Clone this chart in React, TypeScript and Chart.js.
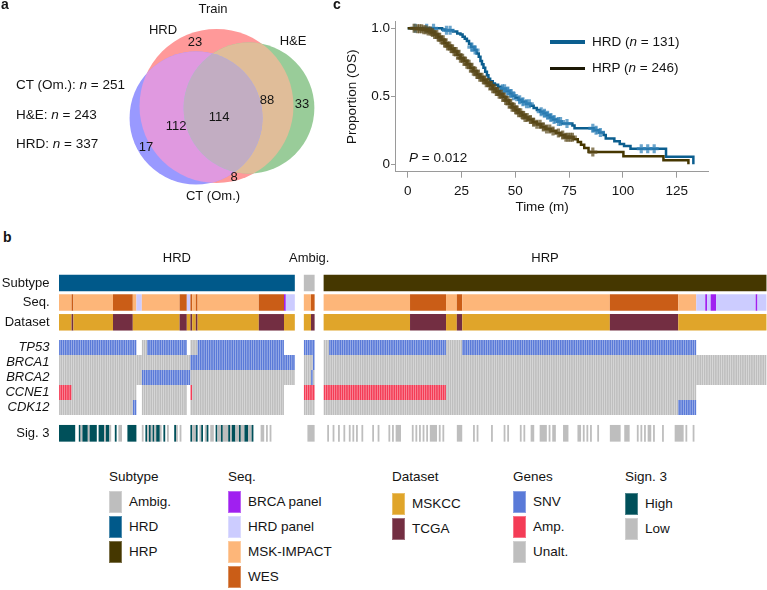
import React, { useEffect, useRef } from 'react';
import { Chart, registerables, BubbleController } from 'chart.js';

Chart.register(...registerables);

// bubble controller whose circles do not shrink the chart area (Venn layout is in px-units)
class VennBubbleController extends (BubbleController as any) {
  getMaxOverflow() { return 0; }
}
(VennBubbleController as any).id = 'vennBubble';
(VennBubbleController as any).defaults = (BubbleController as any).defaults;
(VennBubbleController as any).overrides = (BubbleController as any).overrides;
Chart.register(VennBubbleController as any);

const FONT = '"Liberation Sans", Arial, Helvetica, sans-serif';
const INK = '#141414';

/* ================= a: Venn diagram (Train) ================= */
const vennSetNames = ['HRD', 'H&E', 'CT (Om.)'];
const vennSetSizes = [337, 243, 251];
// regions: HRD only, H&E only, CT only, HRD∩H&E, HRD∩CT, H&E∩CT, all three
const vennRegionCounts = [23, 33, 17, 88, 112, 8, 114];
const vennTitle = 'Train';

/* ================= c: Kaplan–Meier (OS) ================= */
const kmGroupNames = ['HRD', 'HRP'];
const kmGroupN = [131, 246];
const hrdTime = [0, 16, 17.5, 21, 23, 24.5, 25.5, 26.5, 27.5, 28.5, 29.5, 31, 32, 33, 33.8, 34.5, 35.2, 36, 36.8, 37.5, 38.3, 39.5, 40.5, 42, 43.5, 45.5, 47.5, 48.5, 50, 51.5, 53, 55, 57, 58.5, 60, 61.5, 63, 64.5, 66, 67.5, 69.5, 71.5, 76.5, 77.5, 86.5, 89, 91, 92, 96, 98.5, 100.5, 103.5, 120, 132.7];
const hrdSurv = [1, 0.992, 0.985, 0.977, 0.962, 0.954, 0.938, 0.923, 0.907, 0.885, 0.862, 0.84, 0.815, 0.79, 0.76, 0.735, 0.71, 0.68, 0.655, 0.63, 0.61, 0.595, 0.585, 0.57, 0.555, 0.54, 0.52, 0.505, 0.49, 0.475, 0.46, 0.445, 0.43, 0.415, 0.4, 0.387, 0.375, 0.36, 0.345, 0.33, 0.315, 0.3, 0.285, 0.265, 0.25, 0.235, 0.215, 0.19, 0.17, 0.15, 0.135, 0.115, 0.055, 0];
const hrdCensor = [3.5, 8.8, 12, 18, 19.7, 29.8, 31.3, 44, 45, 46.5, 48, 49.2, 52, 53.5, 55.2, 56.5, 62, 63.5, 65, 66.5, 68, 70, 71, 74, 86, 87.5, 89.5, 108.5, 111.5, 114.5];
const hrpTime = [0, 4, 7, 9.5, 11, 12.5, 14, 15.5, 17, 18.5, 20, 21.5, 23, 24.5, 26, 27.5, 29, 30.5, 32, 33.5, 35, 36.5, 38, 39.5, 41, 42.5, 44, 45.5, 47, 48.5, 50, 51.5, 53, 54.5, 56, 58, 60, 62, 64, 66.5, 69, 71, 73, 77, 79, 80.5, 82, 84, 100.2, 118.8, 130.4];
const hrpSurv = [1, 0.996, 0.99, 0.98, 0.97, 0.955, 0.935, 0.915, 0.89, 0.87, 0.85, 0.83, 0.805, 0.78, 0.76, 0.735, 0.71, 0.685, 0.66, 0.64, 0.62, 0.6, 0.58, 0.555, 0.535, 0.515, 0.495, 0.47, 0.445, 0.42, 0.4, 0.38, 0.36, 0.345, 0.33, 0.31, 0.295, 0.275, 0.26, 0.245, 0.23, 0.215, 0.2, 0.185, 0.165, 0.145, 0.12, 0.09, 0.06, 0.03, 0];
const hrpCensor = [3, 4.5, 5.5, 6.5, 7.5, 8.5, 9.5, 10.5, 11.5, 12.5, 13.5, 14.5, 15.5, 16.5, 17.5, 18.5, 19.5, 20.5, 21.5, 22.5, 23.5, 24.5, 25.5, 26.5, 27.5, 28.5, 29.5, 30.5, 31.5, 32.5, 33.5, 34.5, 35.5, 36.5, 37.5, 38.5, 39.5, 40.5, 41.5, 42.5, 43.5, 44.5, 45.5, 46.5, 47.5, 48.5, 49.5, 50.5, 51.5, 52.5, 53.5, 54.5, 55.5, 57, 58.5, 60, 61.5, 63, 64.5, 66, 67.5, 70, 72, 73.5, 74.5, 75.5, 76.5, 86];
const kmPValue = '0.012';
const kmXTicks = [0, 25, 50, 75, 100, 125];
const kmYTicks = [0, 0.5, 1];

/* ================= b: oncoprint ================= */
const sectionNames = ['HRD', 'Ambig.', 'HRP'];
const sectionSizes = [131, 6, 246];
const rowLabels = ['Subtype', 'Seq.', 'Dataset', 'TP53', 'BRCA1', 'BRCA2', 'CCNE1', 'CDK12', 'Sig. 3'];
const geneNames = ['TP53', 'BRCA1', 'BRCA2', 'CCNE1', 'CDK12'];

// category labels
const AMB = 'Ambig.', HRDs = 'HRD', HRPs = 'HRP';
const BP = 'BRCA panel', HP = 'HRD panel', M = 'MSK-IMPACT', W = 'WES';
const K = 'MSKCC', T = 'TCGA';
const S = 'SNV', A = 'Amp.', U = 'Unalt.';
const HI = 'High', LO = 'Low';

// runs: [section, startSample, endSample, category]
const subtypeRuns = [[0, 0, 131, HRDs], [1, 0, 6, AMB], [2, 0, 246, HRPs]];
const seqRuns = [
  [0, 0, 7, M], [0, 7, 8, W], [0, 8, 30, M], [0, 30, 41, W], [0, 41, 43, M], [0, 43, 46, HP], [0, 46, 67, M], [0, 67, 71, W],
  [0, 71, 73, HP], [0, 73, 74, W], [0, 74, 76, M], [0, 76, 77, W], [0, 77, 111, M], [0, 111, 125, W], [0, 125, 126, BP], [0, 126, 131, HP],
  [1, 0, 4, M], [1, 4, 6, W],
  [2, 0, 48, M], [2, 48, 68, W], [2, 68, 74, M], [2, 74, 77, W], [2, 77, 159, M], [2, 159, 197, W], [2, 197, 207, M],
  [2, 207, 212, HP], [2, 212, 213, BP], [2, 213, 215, HP], [2, 215, 218, BP], [2, 218, 240, HP], [2, 240, 241, BP], [2, 241, 246, HP],
];
const datasetRuns = [
  [0, 0, 7, K], [0, 7, 8, T], [0, 8, 30, K], [0, 30, 41, T], [0, 41, 67, K], [0, 67, 71, T], [0, 71, 73, K], [0, 73, 74, T],
  [0, 74, 76, K], [0, 76, 77, T], [0, 77, 111, K], [0, 111, 125, T], [0, 125, 131, K],
  [1, 0, 4, K], [1, 4, 6, T],
  [2, 0, 48, K], [2, 48, 68, T], [2, 68, 74, K], [2, 74, 77, T], [2, 77, 159, K], [2, 159, 197, T], [2, 197, 246, K],
];
const tp53Runs = [[0, 0, 43, S], [0, 46, 49, U], [0, 49, 71, S], [0, 73, 77, U], [0, 77, 125, S], [1, 0, 6, S], [2, 0, 3, U], [2, 3, 68, S], [2, 68, 77, U], [2, 77, 207, S]];
const brca1Runs = [[0, 0, 73, U], [0, 73, 131, S], [1, 0, 5, U], [1, 5, 6, S], [2, 0, 246, U]];
const brca2Runs = [[0, 0, 46, U], [0, 46, 73, S], [0, 73, 131, U], [1, 0, 4, U], [1, 4, 5, S], [1, 5, 6, U], [2, 0, 246, U]];
const ccne1Runs = [[0, 0, 7, A], [0, 7, 43, U], [0, 46, 71, U], [0, 73, 74, A], [0, 74, 125, U], [1, 0, 6, A], [2, 0, 68, A], [2, 68, 207, U]];
const cdk12Runs = [[0, 0, 41, U], [0, 41, 43, S], [0, 46, 71, U], [0, 73, 125, U], [1, 0, 6, U], [2, 0, 197, U], [2, 197, 207, S]];
const sig3Runs = [
  [0, 0, 9, HI], [0, 11, 12, HI], [0, 12, 13, LO], [0, 13, 16, HI], [0, 16, 17, LO], [0, 17, 21, HI], [0, 22, 25, HI], [0, 25, 26, LO],
  [0, 26, 28, HI], [0, 28, 29, LO], [0, 31, 32, HI], [0, 33, 35, LO], [0, 38, 43, HI], [0, 46, 47, LO], [0, 48, 49, HI], [0, 49, 50, LO],
  [0, 50, 51, HI], [0, 51, 52, LO], [0, 52, 53, HI], [0, 53, 54, LO], [0, 54, 56, HI], [0, 56, 57, LO], [0, 58, 59, HI], [0, 60, 61, LO],
  [0, 64, 65, HI], [0, 65, 66, LO], [0, 67, 68, LO], [0, 73, 74, HI], [0, 74, 76, LO], [0, 76, 77, HI], [0, 78, 79, LO], [0, 79, 80, HI],
  [0, 81, 82, LO], [0, 82, 83, HI], [0, 84, 86, LO], [0, 87, 88, HI], [0, 88, 90, LO], [0, 90, 91, HI], [0, 91, 94, LO], [0, 94, 95, HI],
  [0, 95, 96, LO], [0, 96, 98, HI], [0, 98, 100, LO], [0, 100, 101, HI], [0, 101, 103, LO], [0, 103, 105, HI], [0, 105, 107, LO], [0, 107, 108, HI],
  [0, 112, 114, LO], [0, 115, 116, LO], [0, 117, 118, LO],
  [1, 2, 6, LO],
  [2, 2, 3, LO], [2, 5, 6, LO], [2, 8, 9, LO], [2, 11, 12, LO], [2, 14, 15, LO], [2, 16, 17, LO], [2, 18, 19, LO], [2, 21, 22, LO],
  [2, 27, 28, LO], [2, 30, 31, LO], [2, 36, 37, LO], [2, 38, 39, LO], [2, 40, 43, LO], [2, 49, 50, LO], [2, 51, 52, LO], [2, 53, 54, LO],
  [2, 55, 56, LO], [2, 57, 58, LO], [2, 59, 63, LO], [2, 64, 65, LO], [2, 66, 67, LO], [2, 74, 77, LO], [2, 83, 84, LO], [2, 85, 86, LO],
  [2, 93, 94, LO], [2, 100, 101, LO], [2, 102, 103, LO], [2, 109, 110, LO], [2, 111, 112, LO], [2, 115, 117, LO], [2, 120, 124, LO], [2, 125, 126, LO],
  [2, 127, 129, LO], [2, 133, 136, LO], [2, 141, 143, LO], [2, 144, 145, LO], [2, 146, 147, LO], [2, 148, 149, LO], [2, 152, 153, LO], [2, 159, 165, LO],
  [2, 167, 170, LO], [2, 174, 175, LO], [2, 176, 177, LO], [2, 178, 179, LO], [2, 180, 182, LO], [2, 183, 184, LO], [2, 188, 189, LO], [2, 195, 200, LO],
  [2, 201, 202, LO], [2, 205, 206, LO],
];

// legend
const legendTitles = ['Subtype', 'Seq.', 'Dataset', 'Genes', 'Sign. 3'];
const legendItems = [[AMB, HRDs, HRPs], [BP, HP, M, W], [K, T], [S, A, U], [HI, LO]];

/* ================= styles & layout ================= */
const cellColors: Record<string, string> = {
  [AMB]: '#bebebe', [HRDs]: '#00598a', [HRPs]: '#453700',
  [BP]: '#a020f0', [HP]: '#ccccff', [M]: '#fdb679', [W]: '#ca5d17',
  [K]: '#e0a52a', [T]: '#732e42',
  [S]: '#5a7ad8', [A]: '#f43c56', [U]: '#bebebe',
  [HI]: '#00505a', [LO]: '#bebebe',
};
const vennFill = ['rgb(255,153,153)', 'rgb(153,204,153)', 'rgb(153,153,255)'];
const vennMix01 = 'rgb(224,189,153)';
const vennMix02 = 'rgb(224,153,224)';
const vennMix12 = 'rgb(153,189,224)';
const vennMix012 = 'rgb(194,173,194)';
const vennCenters = [[216.5, 106], [249, 108], [196, 118]];
const vennPxPerSqrtN = 4.194;
const vennRegionLabelPos = [[195, 42], [302, 104], [146, 147], [267, 100], [176, 126], [234, 177], [219, 117]];
const vennSetLabelPos = [[163, 30], [293, 41], [213, 196]];
const vennTitlePos = [213, 9];

const sectionGap = 5;
const rowPos = [1.0, 2.3, 3.62, 5.3, 6.3, 7.3, 8.3, 9.3, 11.02];

const stepAt = (times: number[], surv: number[], t: number) => {
  let s = surv[0];
  for (let i = 0; i < times.length; i++) if (times[i] <= t) s = surv[i];
  return s;
};

function makeVenn(canvas: HTMLCanvasElement) {
  const regionsPlugin = {
    id: 'vennRegions',
    afterDatasetsDraw(chart: any) {
      const { ctx, scales } = chart;
      const els = chart.getDatasetMeta(0).data;
      const circle = (i: number) => {
        ctx.beginPath();
        ctx.arc(els[i].x, els[i].y, els[i].options.radius, 0, Math.PI * 2);
      };
      const paint = (clips: number[], f: number, color: string) => {
        ctx.save();
        clips.forEach((c) => { circle(c); ctx.clip(); });
        circle(f);
        ctx.fillStyle = color;
        ctx.fill();
        ctx.restore();
      };
      paint([0], 1, vennMix01);
      paint([0], 2, vennMix02);
      paint([1], 2, vennMix12);
      paint([0, 1], 2, vennMix012);
      ctx.save();
      ctx.font = `13px ${FONT}`;
      ctx.fillStyle = INK;
      ctx.textAlign = 'center';
      ctx.textBaseline = 'middle';
      const px = (p: number[]) => [scales.x.getPixelForValue(p[0]), scales.y.getPixelForValue(p[1])];
      vennRegionCounts.forEach((n, i) => { const [x, y] = px(vennRegionLabelPos[i]); ctx.fillText(String(n), x, y); });
      vennSetNames.forEach((n, i) => { const [x, y] = px(vennSetLabelPos[i]); ctx.fillText(n, x, y); });
      const [tx, ty] = px(vennTitlePos);
      ctx.fillText(vennTitle, tx, ty);
      ctx.restore();
    },
  };
  return new Chart(canvas, {
    type: 'vennBubble',
    data: {
      datasets: [{
        data: vennSetSizes.map((n, i) => ({ x: vennCenters[i][0], y: vennCenters[i][1], r: Math.sqrt(n) * vennPxPerSqrtN })),
        backgroundColor: vennFill,
        borderWidth: 0,
        clip: false,
      }],
    },
    options: {
      responsive: false,
      animation: false,
      events: [],
      layout: { padding: 0 },
      plugins: { legend: { display: false }, tooltip: { enabled: false } },
      scales: {
        x: { type: 'linear', display: false, min: 0, max: 340 },
        y: { type: 'linear', display: false, min: 0, max: 215, reverse: true },
      },
    },
    plugins: [regionsPlugin],
  } as any);
}

function makeKM(canvas: HTMLCanvasElement) {
  const axisGray = '#9a9a9a';
  const tickFont = { family: FONT, size: 13.5 };
  return new Chart(canvas, {
    type: 'line',
    data: {
      datasets: [
        {
          label: 'HRP censored',
          data: hrpCensor.map((t) => ({ x: t, y: stepAt(hrpTime, hrpSurv, t) })),
          showLine: false, pointStyle: 'cross', pointRadius: 4.5, pointBorderWidth: 3.2,
          pointBorderColor: 'rgba(92,76,28,0.7)', pointBackgroundColor: 'rgba(0,0,0,0)',
        },
        {
          label: kmGroupNames[1],
          data: hrpTime.map((t, i) => ({ x: t, y: hrpSurv[i] })),
          stepped: true, borderColor: '#463700', borderWidth: 2.5, pointRadius: 0, fill: false,
        },
        {
          label: 'HRD censored',
          data: hrdCensor.map((t) => ({ x: t, y: stepAt(hrdTime, hrdSurv, t) })),
          showLine: false, pointStyle: 'cross', pointRadius: 4.5, pointBorderWidth: 3.2,
          pointBorderColor: 'rgba(50,130,185,0.72)', pointBackgroundColor: 'rgba(0,0,0,0)',
        },
        {
          label: kmGroupNames[0],
          data: hrdTime.map((t, i) => ({ x: t, y: hrdSurv[i] })),
          stepped: true, borderColor: '#0b5e8f', borderWidth: 2.5, pointRadius: 0, fill: false,
        },
      ],
    },
    options: {
      responsive: false,
      animation: false,
      events: [],
      layout: { padding: { left: 0, right: 59, top: 21.7, bottom: 0 } },
      plugins: { legend: { display: false }, tooltip: { enabled: false } },
      scales: {
        x: {
          type: 'linear', min: -5.9, max: 139.5,
          afterBuildTicks: (s: any) => { s.ticks = kmXTicks.map((v) => ({ value: v })); },
          afterFit: (s: any) => { s.height = 43.3; s.paddingLeft = 0; s.paddingRight = 0; },
          grid: { drawOnChartArea: false, drawTicks: true, tickLength: 6, color: axisGray },
          border: { display: true, color: axisGray, width: 1 },
          ticks: { padding: 5.7, color: INK, font: tickFont, maxRotation: 0, autoSkip: false },
          title: { display: true, text: 'Time (m)     ', color: INK, font: tickFont, padding: { top: 0, bottom: 0 } },
        },
        y: {
          type: 'linear', min: -0.054, max: 1.0485,
          afterBuildTicks: (s: any) => { s.ticks = kmYTicks.map((v) => ({ value: v })); },
          afterFit: (s: any) => { s.width = 65; s.paddingTop = 0; s.paddingBottom = 0; },
          grid: { drawOnChartArea: false, drawTicks: true, tickLength: 4, color: axisGray },
          border: { display: true, color: axisGray, width: 1 },
          ticks: { padding: 1, color: INK, font: tickFont, autoSkip: false, callback: (v: any) => (Number(v) === 0 ? '0' : Number(v).toFixed(1)) },
          title: { display: true, text: 'Proportion (OS)', color: INK, font: tickFont, padding: { top: 14, bottom: 0 } },
        },
      },
    },
  } as any);
}

function makeOnco(canvas: HTMLCanvasElement) {
  const sectionStart = sectionSizes.map((_, i) => sectionSizes.slice(0, i).reduce((a, b) => a + b + sectionGap, 0));
  const total = sectionStart[2] + sectionSizes[2];
  const build = (runs: any[], row: number, perSample: boolean) => {
    const out: any[] = [];
    runs.forEach(([sec, s, e, c]) => {
      const off = sectionStart[sec];
      if (perSample) {
        for (let i = s; i < e; i++) out.push({ x: [off + i + 0.06, off + i + 0.94], y: rowPos[row], c });
      } else {
        out.push({ x: [off + s, off + e], y: rowPos[row], c });
      }
    });
    return out;
  };
  const color = (ctx: any) => (ctx.raw && ctx.raw.c ? cellColors[ctx.raw.c] : '#000');
  const common = { grouped: false, borderWidth: 0, inflateAmount: 0, backgroundColor: color };
  const labelsPlugin = {
    id: 'oncoLabels',
    afterDraw(chart: any) {
      const { ctx, scales, chartArea } = chart;
      ctx.save();
      ctx.fillStyle = INK;
      ctx.textBaseline = 'middle';
      ctx.textAlign = 'center';
      ctx.font = `13px ${FONT}`;
      sectionNames.forEach((n, i) => {
        ctx.fillText(n, scales.x.getPixelForValue(sectionStart[i] + sectionSizes[i] / 2), chartArea.top - 10);
      });
      ctx.textAlign = 'right';
      rowLabels.forEach((lab, i) => {
        ctx.font = `${geneNames.includes(lab) ? 'italic ' : ''}13px ${FONT}`;
        ctx.fillText(lab, chartArea.left - 9.5, scales.y.getPixelForValue(rowPos[i]));
      });
      ctx.restore();
    },
  };
  return new Chart(canvas, {
    type: 'bar',
    data: {
      datasets: [
        { ...common, label: 'annotations', barThickness: 16.5, data: [...build(subtypeRuns, 0, false), ...build(seqRuns, 1, false), ...build(datasetRuns, 2, false)] },
        {
          ...common, label: 'genes', barThickness: 15,
          data: [...build(tp53Runs, 3, true), ...build(brca1Runs, 4, true), ...build(brca2Runs, 5, true), ...build(ccne1Runs, 6, true), ...build(cdk12Runs, 7, true)],
        },
        { ...common, label: 'sig3', barThickness: 16.7, data: build(sig3Runs, 8, false) },
      ],
    },
    options: {
      indexAxis: 'y',
      responsive: false,
      animation: false,
      events: [],
      layout: { padding: { left: 59, right: 0, top: 20, bottom: 0 } },
      plugins: { legend: { display: false }, tooltip: { enabled: false } },
      scales: {
        x: { type: 'linear', display: false, min: 0, max: total + 0.3 },
        y: { type: 'linear', display: false, reverse: true, min: 0, max: 12, offset: false },
      },
    },
    plugins: [labelsPlugin],
  } as any);
}

const abs = (left: number, top: number, extra: any = {}) => ({
  position: 'absolute' as const, left, top, whiteSpace: 'nowrap' as const, fontSize: 13, lineHeight: '16px', ...extra,
});

const legendX = [109, 228, 392, 513, 625];
const legendTop = [490.5, 490.5, 493, 490.5, 493];

export default function App() {
  const vennRef = useRef<HTMLCanvasElement>(null);
  const kmRef = useRef<HTMLCanvasElement>(null);
  const oncoRef = useRef<HTMLCanvasElement>(null);

  useEffect(() => {
    const charts = [makeVenn(vennRef.current!), makeKM(kmRef.current!), makeOnco(oncoRef.current!)];
    return () => charts.forEach((c) => c.destroy());
  }, []);

  return (
    <div style={{ position: 'absolute', left: 0, top: 0, width: 767, height: 590, overflow: 'hidden', background: '#fff', fontFamily: FONT, color: INK }}>
      {/* panel a */}
      <canvas ref={vennRef} width={340} height={215} style={{ position: 'absolute', left: 0, top: 0, width: 340, height: 215 }} />
      <div style={abs(1, -3, { fontSize: 14, lineHeight: '14px', fontWeight: 'bold' })}>a</div>
      <div style={abs(16, 77, { fontSize: 13.5 })}>{vennSetNames[2]}: <i>n</i> = {vennSetSizes[2]}</div>
      <div style={abs(16, 106.5, { fontSize: 13.5 })}>{vennSetNames[1]}: <i>n</i> = {vennSetSizes[1]}</div>
      <div style={abs(16, 136, { fontSize: 13.5 })}>{vennSetNames[0]}: <i>n</i> = {vennSetSizes[0]}</div>

      {/* panel c */}
      <canvas ref={kmRef} width={437} height={215} style={{ position: 'absolute', left: 330, top: 0, width: 437, height: 215 }} />
      <div style={abs(333, -3, { fontSize: 14, lineHeight: '14px', fontWeight: 'bold' })}>c</div>
      <div style={{ position: 'absolute', left: 550, top: 40.2, width: 35, height: 3.5, background: '#0b5e8f' }} />
      <div style={{ position: 'absolute', left: 550, top: 66.5, width: 35, height: 3.5, background: '#1c1805' }} />
      <div style={abs(592, 34, { fontSize: 13.5 })}>{kmGroupNames[0]} (<i>n</i> = {kmGroupN[0]})</div>
      <div style={abs(592, 60.3, { fontSize: 13.5 })}>{kmGroupNames[1]} (<i>n</i> = {kmGroupN[1]})</div>
      <div style={abs(409, 150, { fontSize: 13.5 })}><i>P</i> = {kmPValue}</div>

      {/* panel b */}
      <canvas ref={oncoRef} width={767} height={200} style={{ position: 'absolute', left: 0, top: 248, width: 767, height: 200 }} />
      <div style={abs(3, 229.5, { fontSize: 14, lineHeight: '14px', fontWeight: 'bold' })}>b</div>

      {/* legend */}
      {legendTitles.map((t, g) => (
        <React.Fragment key={t}>
          <div style={abs(legendX[g], 469, { fontSize: 13.5 })}>{t}</div>
          {legendItems[g].map((it, j) => (
            <React.Fragment key={it}>
              <div style={{ position: 'absolute', left: legendX[g], top: legendTop[g] + j * 25.3, width: 12.5, height: 22, background: cellColors[it], boxShadow: 'inset 0 0 0 1px rgba(255,255,255,0.3)' }} />
              <div style={abs(legendX[g] + 20, legendTop[g] + j * 25.3 + 3, { fontSize: 13.5 })}>{it}</div>
            </React.Fragment>
          ))}
        </React.Fragment>
      ))}
    </div>
  );
}
